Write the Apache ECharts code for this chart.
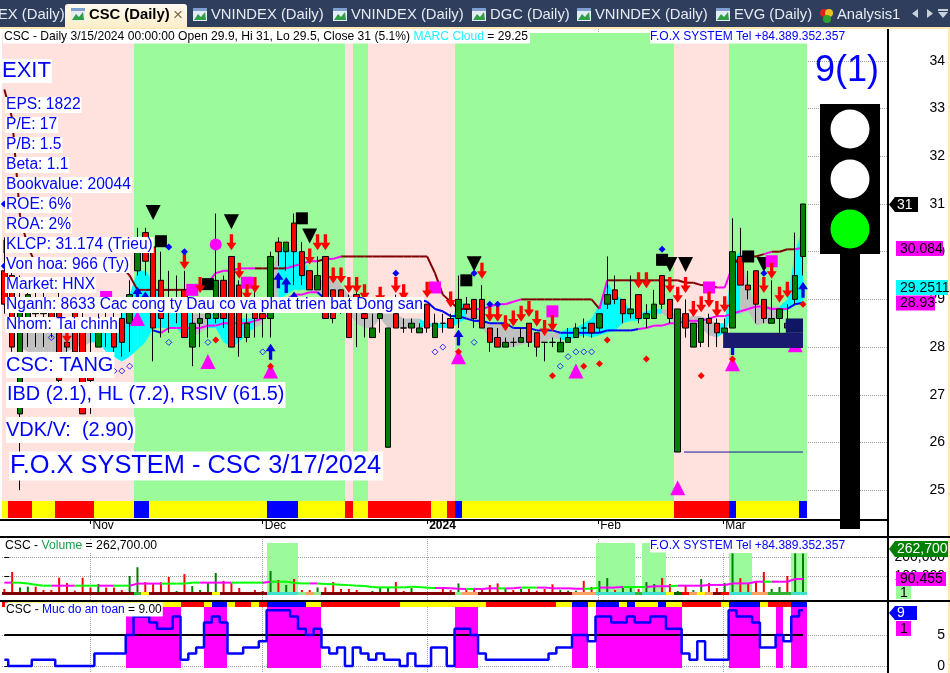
<!DOCTYPE html>
<html><head><meta charset="utf-8"><style>html,body{margin:0;padding:0;background:#fff}#c{width:950px;height:673px}</style>
<script src="https://cdn.jsdelivr.net/npm/echarts@6/dist/echarts.min.js"></script></head>
<body><div id="c"></div><script>
// [open, close, low, high]
const candles=[[29.6,28.9,28.7,30.3],[29.5,28,27.9,29.7],[26.6,28.9,25,29.5],[28.6,29.1,28,29.3],[28.7,29,28,29.3],[28.7,28.9,28,29.2],[28.8,28.6,28.2,29],[29,27.3,27.2,29.2],[28.1,28,27.9,28.3],[28.8,27.9,27.9,29],
[28.6,26.6,26.6,28.8],[27.4,27.3,26.6,28.6],[28,28.5,28,28.7],[28.6,28.4,28,28.9],[28.6,28,27.8,29],[28.6,28.1,27.8,28.8],[28.5,29.1,27.9,29.4],[29.6,30,29.5,30.5],[30.4,29.8,29.5,30.5],[30.1,28.4,27.7,30.2],
[29.4,28.6,28.2,30],[29,28.95,28.3,29.6],[29,28.9,28.5,29.5],[29.2,28.2,28.2,29.6],[28,28.5,27.6,28.8],[28.5,28.6,28,28.9],[28.6,28.7,28.2,29],[28.6,29.4,28.5,30.8],[29.4,28.6,28.4,29.5],[29.9,28,28,29.9],
[29.3,28.2,27.8,29.4],[28.2,28.5,28.1,28.7],[29,28.6,28.2,29.3],[28.7,28.6,28.2,29],[28.6,29.9,28.2,30],[30.2,30,29.7,30.3],[30,30.2,29.6,30.2],[30.6,30,29.3,30.8],[30,29.5,29.3,30.2],[29.6,29.2,29.2,29.6],
[29.2,29.5,29.2,29.9],[29.9,28.6,28.6,29.9],[29.2,28.6,28.5,29.2],[29.2,28.8,28.7,29.2],[28.9,28.2,28.2,29.1],[29.1,29,28,29.3],[28.7,28.6,28.2,29],[28.2,28.4,28.2,28.7],[28.6,28.7,28.3,29],[25.9,28.4,25.9,28.4],
[28.7,28.4,28.4,29.1],[28.4,28.4,28.3,28.6],[28.4,28.5,28.3,28.6],[28.3,28.4,28.3,28.5],[28.9,28.4,28.3,28.9],[28.2,28.5,28.2,28.7],[28.5,28.5,28.3,28.7],[28.6,28.4,28.4,28.7],[28.6,29,28.4,29.5],[28.9,28.8,28.7,29.05],
[29,28.6,28.4,29],[29,28.4,28.4,29.3],[28.4,28.1,27.9,28.4],[28.2,28,28,28.4],[28,28.1,28,28.2],[28.1,28.1,28,28.2],[28.1,28.2,28.1,28.4],[28.5,28.1,28,28.5],[28.3,28,27.8,28.3],[28.1,28.1,27.7,28.1],
[28.1,28.1,28,28.2],[27.9,28.1,27.9,28.2],[28.1,28.2,28.1,28.4],[28.2,28.4,28.2,28.5],[28.4,28.4,28.2,28.6],[28.5,28.3,28.2,28.5],[28.4,28.7,28.3,28.7],[28.9,29.1,28.8,29.9],[29.2,29,28.9,29.5],[29,28.7,28.5,29],
[28.7,28.8,28.6,29.5],[29.1,28.6,28.5,29.1],[28.6,28.7,28.4,28.9],[28.6,28.9,28.6,29.2],[29.5,28.9,28.8,29.5],[29,28.6,28.5,29],[25.8,28.8,25.8,28.8],[28.7,28.4,28.2,29],[28,28.5,28,28.5],[28.1,28.6,28,28.6],
[28.6,28.5,28,28.7],[28.5,28.3,28,28.6],[28.3,28.4,28.2,28.6],[28.4,30,28.4,30.7],[29.9,29.3,29.3,30.5],[29.3,29.2,29,29.6],[29.6,28.9,28.5,29.6],[29,28.6,28.5,29],[28.5,28.6,28.5,29.4],[28.6,28.8,28.3,28.8],
[28.4,28.5,28.3,28.9],[29,29.5,28.9,30.4],[29.9,31,29.5,31]];
const monthTicks=[11,33,54,75.85,91.8];
const monthLabels=['Nov','Dec','2024','Feb','Mar'];
const priceTicks=[25,26,27,28,29,30,31,32,33,34];
const volumeTicks=[100000,200000];
const safetyTicks=[0,5];
// run-length tables: [key, last bar index]
const backdropRuns=[['p',16],['g',43],['p',44],['g',46],['p',57],['g',85],['p',92],['g',102]];
const priceRibbonRuns=[['y',0],['r',3],['y',6],['r',11],['y',16],['b',18],['y',33],['b',37],['y',43],['r',44],['y',46],['r',54],['y',56],['r',57],['b',58],['y',85],['r',92],['b',93],['y',101],['b',102]];
const safetyRibbonRuns=[['r',0],['y',22],['r',25],['y',26],['b',28],['y',29],['r',31],['y',32],['r',33],['b',38],['y',40],['r',50],['y',61],['r',70],['y',72],['b',74],['y',75],['b',78],['y',79],['b',80],['y',83],['b',84],['y',86],['r',91],['y',92],['b',96],['y',97],['r',100],['b',102]];
const volumeStripRuns=[['d',16],['g',17],['y',18],['d',26],['y',27],['d',33],['t',37],['l',38],['o',39],['l',40],['d',57],['l',58],['o',60],['d',72],['o',75],['t',80],['g',81],['t',84],['y',85],['k',86],['r',87],['o',88],['y',89],['o',90],['d',91],['r',92],['t',95],['o',97],['g',100],['t',102]];
// volume, in thousands
const volume=[32,121,39,44,44,26,26,91,63,23,91,39,58,39,39,26,100,146,68,63,68,95,21,110,47,26,63,116,74,63,37,16,26,21,126,79,53,84,26,26,40,40,68,32,32,26,12,21,40,40,68,21,37,12,12,12,32,26,61,26,37,26,53,61,32,26,32,32,23,32,56,26,23,23,74,42,74,89,26,47,37,32,68,58,89,58,21,53,26,84,63,37,63,219,89,63,74,121,32,42,100,219,219];
const volumeSide='rrggrrrrrrrrgrrrggrrrrgrggggrrrgrrgrgrrrgrrrrrrgggrrggggrrgrrrrrgrgrrrrgggrrggrggrggrrgrggrrggrrrrggrgg';
const volumeAverage=[65,65,65,60,54,49,49,49,49,49,49,49,49,49,49,49,49,60,60,60,60,60,60,60,65,65,65,65,65,65,65,65,65,65,70,70,70,65,61,61,61,58,56,54,52,49,47,42,40,40,40,40,44,42,38,37,37,35,33,32,32,32,35,35,35,35,39,39,39,39,35,35,35,33,33,33,39,39,39,42,42,42,42,46,46,46,49,49,49,49,53,53,53,61,61,61,70,70,70,70,70,84,84];
const volumeAverageTone='mmgggggmmmgggmmggmmmmgggggmmmmggggmgggggmgggggggggggggggmmmmgmmmgmmggmmmmmmggmmmgggmmmgmmmmmmmmmmmgmmmm';
const volumeShades=[[33.5,37.5,273],[75.5,80.5,273],[81.5,84.5,273],[92.5,95.5,221],[100.5,102.5,221]];
// cloud: upper, lower, tone per bar
const cloudUpper=[null,null,28.3,28.3,28.3,28.3,28.3,28.3,28.3,28.3,28.3,28.3,28.3,28.4,28.3,28.7,29.1,29.6,29.6,29.4,29,28.9,28.8,28.8,28.7,28.7,28.7,28.7,28.7,28.7,28.6,28.6,28.6,28.7,29.4,30.1,30.1,30,30,29.5,29.4,29.4,29.5,29.3,29.1,29,28.9,28.8,28.7,28.7,28.7,28.6,28.6,28.6,28.5,28.5,28.5,28.5,28.95,28.9,28.8,28.55,28.5,28.5,28.4,28.4,28.4,28.35,28.3,28.3,28.3,28.3,28.4,28.4,28.5,28.6,28.9,29.35,29.1,29,28.75,28.7,28.75,28.8,28.8,28.8,28.6,28.65,28.65,28.65,28.55,28.5,28.5,29.85,30,29.3,28.85,28.85,28.85,28.85,29,30,30.5];
const cloudLower=[null,null,28,27.9,27.9,27.9,27.9,27.9,27.9,28,28,28.1,28.1,27.9,27.8,27.7,27.8,27.95,28.1,28.4,28.4,28.4,28.4,28.2,28.2,28.3,28.4,28.4,28.1,28,28.1,28.3,28.4,28.5,28.9,29,29.1,29.2,29.2,29.2,29.1,29.1,29.1,29,28.7,28.5,28.4,28.4,28.6,28.4,28.4,28.4,28.4,28.4,28.45,28.4,28.4,28.4,28.5,28.6,28.6,28.4,28.2,28,28,28,28.05,28.1,28.1,28.1,28.2,28.15,28.15,28.2,28.25,28.2,28.25,28.3,28.35,28.5,28.55,28.55,28.65,28.7,28.7,28.6,28.45,28.4,28.4,28.4,28.25,28.2,28.3,28.7,28.7,28.75,28.45,28.5,28.5,28.7,28.8,28.9,28.93];
const cloudTone='ggggggggggggcccccccccccccggccccccgggccccggggggggggggggccccccggggggggggggcccccccccccccgggggggcccgggggcc'.padEnd(103,'c');
// trailing lines
const trailUpper=[33.4,32.8,30.75,30.1,29.75,29.7,29.7,29.7,29.7,29.7,29.7,29.7,29.7,29.7,29.7,29.7,29.5,29.2,29.2,29.2,29.2,29.2,29.2,29.2,29.2,29.3,29.35,29.55,29.6,29.6,29.65,29.65,29.65,29.65,29.65,29.65,29.65,29.7,29.75,29.8,29.8,29.85,29.85,29.9,29.9,29.9,29.9,29.9,29.9,29.9,29.9,29.9,29.9,29.9,29.9,29.55,29.1,28.95,28.8,28.8,28.8,28.8,28.85,28.9,28.9,28.95,29,29,29,29,29,29,29,29,29,29,28.8,29.4,29.4,29.4,29.4,29.4,29.4,29.4,29.4,29.4,29.4,29.35,29.35,29.3,29.3,29.25,29.25,29.7,29.9,29.9,29.9,29.95,30,30,30.05,30.05,30.084];
const trailUpperTone='dddddddddddddddddddddddddmmmmmmmmddddmmmmdmmdddddddddddddddddmmmmmmddddddddddmddddddddddddddmmddddmdddm'.slice(0,103);
const trailLower=[null,null,null,null,null,null,null,null,null,null,null,null,null,null,null,null,null,null,null,28.35,28.3,28.4,28.4,28.4,28.4,28.4,28.45,28.45,28.5,28.5,28.5,28.5,28.55,28.6,28.7,28.9,29,29.1,29.1,29.15,29.15,29,29,29,29,29,29,29,29,29,29,29,29,29,28.95,28.8,28.75,28.65,28.65,28.6,28.55,28.55,28.5,28.5,28.5,28.4,28.4,28.4,28.35,28.35,28.35,28.3,28.3,28.3,28.3,28.3,28.3,28.35,28.35,28.35,28.35,28.38,28.4,28.45,28.45,28.5,28.5,28.55,28.55,28.55,28.6,28.65,28.65,28.7,28.75,28.8,28.85,28.85,28.8,28.8,28.8,28.9,28.93];
const trailLowerTone='bbbbbbbbbbbbbbbbbbbbbmmmmmmmmmmmmmmmmmmmmbbbbbbbbbbbbbbbbbbbbbbbbbbbbbbbbbbbbbbbbbmmmmmmmmmmmmmmmmmmmbbmm'.padEnd(103,'m');
// markers: [bar, price]
const blackTriangles=[[19,30.82],[29,30.63],[39,30.33],[60,29.75],[85,29.73],[87,29.73],[97,29.73]];
const blackSquares=[[20,30.22],[26,29.32],[38,30.7],[59,29.4],[84,29.83],[95,29.9]];
const magentaSquares=[[13,29.05],[24,29.2],[31,29.35],[55,29.25],[70,28.75],[90,29.25],[98,29.8]];
const magentaCircles=[[27,30.15]];
const magentaTriangles=[[17,28.6],[26,27.7],[34,27.5],[58,27.8],[73,27.5],[86,25.05],[93,27.65],[101,28.05]];
const redArrows=[[8,28.25],[23,29.8],[25,29.3],[29,30.2],[30,29.6],[31,29.15],[32,29.3],[39,29.9],[40,30.2],[41,30.2],[42,29.5],[43,29.5],[44,29.3],[45,29.3],[46,29.15],[48,29.1],[50,29.3],[51,29.15],[54,29.2],[57,29],[61,29.6],[62,28.7],[63,28.7],[64,28.5],[65,28.6],[66,28.7],[67,28.8],[68,28.6],[69,28.4],[70,28.5],[81,29.4],[82,29.4],[85,29.3],[86,29.1],[87,29.3],[88,28.8],[89,28.9],[90,29],[91,28.8],[92,28.9],[97,29.3],[98,29.6],[99,29.1],[100,29.2]];
const blueArrows=[[17,29.1],[18,29],[34,27.9],[35,29.4],[36,29.3],[37,29],[58,28.2],[93,28],[102,29.2]];
const blueDiamonds=[[0,31],[0,29.7],[21,30.1],[23,30],[50,29.55],[60,29.55],[62,28.9],[63,28.9],[84,30.05],[97,29.55]];
const hollowDiamonds=[[6,28.2],[14,27.5],[15,27.5],[16,27.6],[21,28.1],[26,28.1],[33,27.9],[55,27.9],[56,28],[60,28.1],[71,27.6],[72,27.8],[73,27.9],[74,27.9],[75,27.9]];
const redDiamonds=[[27,28.15],[34,27.6],[58,27.9],[70,27.4],[74,27.6],[76,27.65],[77,28.15],[82,27.75],[89,27.4],[93,27.75],[102,28.9]];
// [from bar, to bar, low, high]
const supportZones=[[91.8,102,27.98,28.3,'#191970'],[99.8,102,28.3,28.6,'#101564']];
const supportLine=[[86.8,25.8],[102,25.8]];
const safety=[1,0,0,0,1,1,1,0,0,0,0,0,2,2,2,2,5,8,8,7,6,6,8,1,2,3,7,8,7,2,2,3,3,4,9,9,9,8,6,5,6,3,2,3,0,3,2,1,2,1,1,0,2,0,0,3,3,0,6,6,5,2,1,1,1,1,1,1,1,1,2,3,3,5,5,4,8,8,7,7,8,7,7,8,8,6,6,2,1,4,1,1,1,9,8,8,7,3,3,5,4,8,9];
const safetyLevel=5;
const tabs=[['EX (Daily)',-2,0,0],['VNINDEX (Daily)',211,193,0],['VNINDEX (Daily)',351,333,0],['DGC (Daily)',490,472,0],['VNINDEX (Daily)',595,577,0],['EVG (Daily)',734,716,0]];
const infoLines=['EPS: 1822','P/E: 17','P/B: 1.5','Beta: 1.1','Bookvalue: 20044','ROE: 6%','ROA: 2%','KLCP: 31.174 (Trieu)','Von hoa: 966 (Ty)','Market: HNX','Nganh: 8633 Cac cong ty Dau co va phat trien bat Dong san','Nhom: Tai chinh'];

const FONT='"Liberation Sans",Arial,sans-serif';
const PALE_GREEN='#9BFB9B',PINK='#FFE2DE';
const expand=runs=>{const o=[];let i=0;runs.forEach(([k,last])=>{for(;i<=last;i++)o.push(k)});return o};
const backdrop=expand(backdropRuns),priceRibbon=expand(priceRibbonRuns),safetyRibbon=expand(safetyRibbonRuns),volumeStrip=expand(volumeStripRuns);
const RIBBON={y:'#ffff00',r:'#ff0000',b:'#0000ff'};
const STRIP={d:'#800000',g:'#32b432',y:'#ffff00',t:'#40e0d0',l:'#90ee90',o:'#ffa060',k:'#006400',r:'#ff0000'};
const LINE={d:'#800000',m:'#ff00ff',b:'#0000ff'};
const bars=candles.map((c,i)=>i);
const XMIN=(2-4.34)/7.83,XMAX=(888-4.34)/7.83;
const rd=Math.round;
const bandItem=(colorOf,top,bottom)=>(p,api)=>{
  const j=api.value(0),a=api.coord([j-.5,top]),b=api.coord([j+.5,bottom]);
  const x=rd(a[0]),y=rd(a[1]);
  return {type:'rect',shape:{x,y,width:rd(b[0])-x,height:rd(b[1])-y},style:{fill:colorOf(j)}};
};
const customBars=(name,grid,z,item,data)=>({name,type:'custom',xAxisIndex:grid,yAxisIndex:grid,z,clip:true,silent:true,data:data||bars.map(j=>[j]),encode:{x:0},renderItem:item});
const segLine=(values,toneOf)=>(p,api)=>{
  const j=api.value(0);
  if(j===0||values[j]==null||values[j-1]==null)return null;
  const a=api.coord([j-1,values[j-1]]),b=api.coord([j,values[j]]);
  return {type:'line',shape:{x1:a[0],y1:a[1],x2:b[0],y2:b[1]},style:{stroke:toneOf(j),lineWidth:2}};
};
const marker=(name,data,symbol,size,color,z,extra)=>Object.assign({name,type:'scatter',xAxisIndex:0,yAxisIndex:0,z:z||5,silent:true,symbol,symbolSize:size,data,itemStyle:{color,opacity:1}},extra||{});
const ARROW_DOWN='path://M3,0H6V8H9L4.5,15L0,8H3Z',ARROW_UP='path://M4.5,0L9,7H6V15H3V7H0Z';

const xAxis=i=>({gridIndex:i,type:'value',min:XMIN,max:XMAX,axisLine:{show:false},
  axisTick:{show:i===0,customValues:monthTicks,length:5,lineStyle:{color:'#000'}},
  splitLine:{show:true,lineStyle:{type:'dotted',color:'#a0a0a0'}},
  axisLabel:i===0?{show:true,customValues:monthTicks,margin:1,align:'left',padding:[0,0,0,2],color:'#000',fontFamily:FONT,fontSize:12,
    formatter:v=>{const k=monthTicks.indexOf(v),t=monthLabels[k];return t==='2024'?'{b|2024}':t},rich:{b:{fontWeight:'bold',fontSize:12,fontFamily:FONT,color:'#000'}}}:{show:false}});
const yAxis=(i,min,max,ticks,fmt)=>({gridIndex:i,type:'value',position:'right',min,max,axisLine:{show:false},
  axisTick:{show:true,customValues:ticks,length:5,lineStyle:{color:'#000'}},
  splitLine:{show:true,lineStyle:{type:'dotted',color:'#a0a0a0'}},
  axisLabel:{show:true,customValues:ticks,align:'right',margin:57,color:'#000',fontFamily:FONT,fontSize:14,formatter:fmt||(v=>String(v))}});

const series=[
  customBars('backdrop',0,1,(p,api)=>{
    const j=api.value(0),a=api.coord([j-.5,34.58]),b=api.coord([j+.5,24.77]);const x=rd(a[0]);
    return {type:'rect',shape:{x,y:rd(a[1]),width:rd(b[0])-x,height:rd(b[1])-rd(a[1])},style:{fill:backdrop[j]==='g'?PALE_GREEN:PINK}};}),
  customBars('price ribbon',0,1,bandItem(j=>RIBBON[priceRibbon[j]],24.77,24.42)),
  customBars('MARC Cloud',0,2,(p,api)=>{
    const j=api.value(0);
    if(j===0||cloudUpper[j]==null||cloudUpper[j-1]==null)return null;
    const pts=[api.coord([j-1,cloudUpper[j-1]]),api.coord([j,cloudUpper[j]]),api.coord([j,cloudLower[j]]),api.coord([j-1,cloudLower[j-1]])];
    return {type:'polygon',shape:{points:pts},style:{fill:cloudTone[j]==='c'?'#00ffff':'#c0c0c0'}};}),
  customBars('upper trail',0,3,segLine(trailUpper,j=>LINE[trailUpperTone[j]])),
  customBars('lower trail',0,3,segLine(trailLower,j=>LINE[trailLowerTone[j]])),
  {name:'CSC',type:'candlestick',xAxisIndex:0,yAxisIndex:0,z:4,silent:true,barWidth:6,encode:{x:0,y:[1,2,3,4]},
    data:candles.map((c,i)=>[i,c[0],c[1],c[2],c[3]]),
    itemStyle:{color:'#008000',color0:'#ff0000',borderColor:'#000',borderColor0:'#000',borderWidth:1}},
  marker('black triangles',blackTriangles,'triangle',[15,15],'#000',5,{symbolRotate:180}),
  marker('black squares',blackSquares,'rect',[12,12],'#000'),
  marker('magenta squares',magentaSquares,'rect',[12,12],'#ff00ff'),
  marker('magenta circles',magentaCircles,'circle',[12,12],'#ff00ff'),
  marker('magenta triangles',magentaTriangles,'triangle',[15,15],'#ff00ff'),
  marker('red arrows',redArrows,ARROW_DOWN,[10,16],'#ff0000'),
  marker('blue arrows',blueArrows,ARROW_UP,[10,16],'#0000e0'),
  marker('blue diamonds',blueDiamonds,'diamond',[7,7],'#0000ff'),
  marker('red diamonds',redDiamonds,'diamond',[7,7],'#ff0000'),
  marker('hollow diamonds',hollowDiamonds,'diamond',[6,6],'rgba(0,0,0,0)',5,{itemStyle:{color:'rgba(0,0,0,0)',borderColor:'#0000ff',borderWidth:1}}),
  customBars('support zones',0,6,(p,api)=>{
    const a=api.coord([api.value(0),api.value(3)]),b=api.coord([api.value(1),api.value(2)]);
    return {type:'rect',shape:{x:a[0],y:a[1],width:b[0]-a[0],height:b[1]-a[1]},style:{fill:supportZones[p.dataIndex][4]}};},supportZones.map(z=>z.slice(0,4))),
  {name:'support line',type:'line',xAxisIndex:0,yAxisIndex:0,z:6,silent:true,symbol:'none',data:supportLine,lineStyle:{color:'#1a1aa0',width:1}},
  // volume
  customBars('volume shades',1,1,(p,api)=>{
    const a=api.coord([api.value(0),api.value(2)]),b=api.coord([api.value(1),0]);
    return {type:'rect',shape:{x:rd(a[0]),y:rd(a[1]),width:rd(b[0])-rd(a[0]),height:rd(b[1])-rd(a[1])},style:{fill:PALE_GREEN}};},
    volumeShades.map(s=>[s[0],s[1],s[2]*1000])),
  {name:'Volume',type:'bar',xAxisIndex:1,yAxisIndex:1,z:2,silent:true,barWidth:2,
    data:volume.map((v,j)=>({value:[j,v*1000],itemStyle:{color:volumeSide[j]==='g'?'#008000':'#ff0000'}}))},
  customBars('volume strip',1,3,bandItem(j=>STRIP[volumeStrip[j]],16000,0)),
  customBars('volume average',1,4,segLine(volumeAverage.map(v=>v*1000),j=>volumeAverageTone[j]==='m'?'#ff00ff':'#00ff00')),
  // safety
  customBars('safety fill',2,1,(p,api)=>{
    const j=api.value(0);if(safety[j]<safetyLevel)return null;
    const a=api.coord([j-.5,9.52]),b=api.coord([j+.5,-0.32]);const x=rd(a[0]);
    return {type:'rect',shape:{x,y:rd(a[1]),width:rd(b[0])-x,height:rd(b[1])-rd(a[1])},style:{fill:'#ff00ff'}};}),
  customBars('safety ribbon',2,2,bandItem(j=>RIBBON[safetyRibbon[j]],10.48,9.52)),
  {name:'level',type:'line',xAxisIndex:2,yAxisIndex:2,z:3,silent:true,symbol:'none',data:bars.map(j=>[j,safetyLevel]),lineStyle:{color:'#000',width:2}},
  {name:'Muc do an toan',type:'line',xAxisIndex:2,yAxisIndex:2,z:4,silent:true,symbol:'none',step:'middle',data:safety.map((v,j)=>[j,v]),lineStyle:{color:'#0000ff',width:2.5}}
];

// ---- page furniture ----
const Z=100,g=[];
const rect=(x,y,w,h,fill,z)=>g.push({type:'rect',z:z||Z,silent:true,shape:{x,y,width:w,height:h},style:{fill}});
const txt=(text,x,y,size,fill,o)=>g.push({type:'text',z:(o&&o.z)||Z+2,silent:true,x,y,style:Object.assign({text,fill,font:`${size}px ${FONT}`,verticalAlign:'middle',align:'left'},o&&o.style||{})});
const boxed=(text,x,y,size,pad)=>txt(text,x,y,size,'#0000ff',{style:{backgroundColor:'#fff',padding:pad||[1,2,1,2]}});
// tab bar
rect(0,0,950,27,'#2e3e5c');rect(0,27,950,2,'#fde8b4');rect(948,27,2,646,'#fde8b4',Z-1);
g.push({type:'rect',z:Z,silent:true,shape:{x:65,y:4,width:122,height:24,r:[3,3,0,0]},style:{fill:{type:'linear',x:0,y:0,x2:0,y2:1,colorStops:[{offset:0,color:'#fffaf0'},{offset:1,color:'#fdeec8'}]}}});
const icon=x=>{rect(x,8,14,13,'#e4ecf6');rect(x,8,14,3,'#7f9fd0');g.push({type:'polygon',z:Z+1,silent:true,shape:{points:[[x+1,20],[x+5,14],[x+8,17],[x+12,12],[x+13,20]]},style:{fill:'#2f9e44'}})};
tabs.forEach(([t,x,ix])=>{if(ix)icon(ix);txt(t,x,15,14.8,'#e6eaf2')});
icon(71);txt('CSC (Daily)',89,15,14.8,'#000',{style:{font:`bold 14.8px ${FONT}`}});
txt('\u00d7',173,15,17,'#7a6a50');
[['#e02020',821],['#f0c020',826],['#30a030',824]].forEach(([c,x],k)=>g.push({type:'circle',z:Z+1,silent:true,shape:{cx:x+3,cy:k===2?19:13,r:4},style:{fill:c}}));
txt('Analysis1',837,15,14.8,'#e6eaf2');
g.push({type:'polygon',z:Z,silent:true,shape:{points:[[918,9],[918,18],[912,13.5]]},style:{fill:'#c8d0dc'}});
g.push({type:'polygon',z:Z,silent:true,shape:{points:[[927,9],[927,18],[933,13.5]]},style:{fill:'#c8d0dc'}});
g.push({type:'polygon',z:Z,silent:true,shape:{points:[[938,12],[948,12],[943,18]]},style:{fill:'#c8d0dc'}});rect(938,9,10,2,'#c8d0dc');
// rules
rect(0,519,888,2,'#000',Z-1);rect(0,536,950,2,'#000',Z-1);rect(0,600,950,2,'#000',Z-1);rect(887,29,2,644,'#000',Z-1);
// traffic light
rect(840,254,20,275,'#000',Z);rect(820,104,60,150,'#000',Z);
[[129,'#fff'],[179,'#fff'],[229,'#00ff00']].forEach(([cy,c])=>g.push({type:'circle',z:Z+1,silent:true,shape:{cx:850,cy,r:19.5},style:{fill:c}}));
txt('9(1)',815,71,36,'#0000ff');
// headers
txt('{k|CSC - Daily 3/15/2024 00:00:00 Open 29.9, Hi 31, Lo 29.5, Close 31 (5.1%) }{c|MARC Cloud}{k| = 29.25}',3,36.5,12,'#000',{style:{backgroundColor:'#fff',padding:[1,2,1,1],rich:{k:{fill:'#000',font:`12.1px ${FONT}`},c:{fill:'#22eeff',font:`12.1px ${FONT}`}}}});
boxed('F.O.X SYSTEM Tel +84.389.352.357',650,36.5,12,[1,0,1,0]);
boxed('F.O.X SYSTEM Tel +84.389.352.357',650,545.5,12,[1,0,1,0]);
txt('{k|CSC - }{c|Volume}{k| = 262,700.00}',4,546,12,'#000',{style:{backgroundColor:'#fff',padding:[0,1,0,1],rich:{k:{fill:'#000',font:`12.2px ${FONT}`},c:{fill:'#1e9e4a',font:`12.2px ${FONT}`}}}});
txt('{k|CSC - }{c|Muc do an toan}{k| = 9.00}',5,609.5,12,'#000',{style:{backgroundColor:'#fff',padding:[1,1,1,1],rich:{k:{fill:'#000',font:`12px ${FONT}`},c:{fill:'#0000ff',font:`12px ${FONT}`}}}});
// info
boxed('EXIT',2,71,22,[1,1,1,0]);
infoLines.forEach((t,i)=>boxed(t,5,105+20*i,15.6,[0,1,0,1]));
rect(3.5,240,1,13,'#000',Z+3);
boxed('CSC: TANG',6,365,20,[3,1,3,0]);
boxed('IBD (2.1), HL (7.2), RSIV (61.5)',6,395,19.9,[3,1,3,1]);
boxed('VDK/V:  (2.90)',6,430,20,[3,1,3,0]);
boxed('F.O.X SYSTEM - CSC 3/17/2024',9,466,25.4,[2,2,2,1]);
// value tags
const flag=(x,y,w,h,fill,text,color)=>{g.push({type:'polygon',z:Z+3,silent:true,shape:{points:[[x,y],[x+6,y-h/2],[x+w,y-h/2],[x+w,y+h/2],[x+6,y+h/2]]},style:{fill}});txt(text,x+8,y+.5,14,color,{z:Z+4})};
const tag=(x,y,w,h,fill,text,color)=>{rect(x,y-h/2,w,h,fill,Z+3);txt(text,x+4,y+.5,14,color,{z:Z+4})};
flag(889,204.5,29,15,'#000','31','#fff');
tag(896,248.5,47,15,'#ff00ff','30.084','#000');
tag(896,287.5,52,15,'#00ffff','29.2511','#000');
tag(896,303,39,15,'#ff00ff','28.93','#000');
flag(889,549,59,16,'#008000','262,700','#fff');
tag(896,579,50,14,'#ff00ff','90,455','#000');
tag(896,592.5,15,13,'#9BFB9B','1','#000');
flag(889,613,28,14,'#0000ff','9','#fff');
tag(896,628.5,15,15,'#ff00ff','1','#000');

const chart=echarts.init(document.getElementById('c'),null,{renderer:'canvas'});
chart.setOption({animation:false,backgroundColor:'#fff',tooltip:{show:false},legend:{show:false},
  grid:[{left:2,right:62,top:29,bottom:154},{left:2,right:62,top:537,bottom:73},{left:2,right:62,top:601,bottom:0}],
  xAxis:[xAxis(0),xAxis(1),xAxis(2)],
  yAxis:[yAxis(0,31-(519-204)/47.7,31+(204-29)/47.7,priceTicks),
         yAxis(1,-26300,305300,volumeTicks,v=>v.toLocaleString('en-US')),
         yAxis(2,-1.13,10.48,safetyTicks)],
  series,graphic:{elements:g}});
</script></body></html>
